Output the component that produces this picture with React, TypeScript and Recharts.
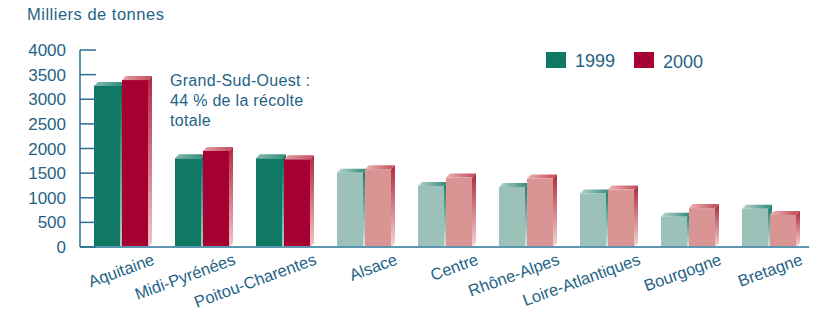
import { BarChart, Bar, XAxis, YAxis } from 'recharts';

const regions = [
  'Aquitaine',
  'Midi-Pyrénées',
  'Poitou-Charentes',
  'Alsace',
  'Centre',
  'Rhône-Alpes',
  'Loire-Atlantiques',
  'Bourgogne',
  'Bretagne',
];
const harvest1999 = [3270, 1800, 1800, 1510, 1240, 1220, 1085, 615, 775];
const harvest2000 = [3390, 1950, 1780, 1580, 1410, 1390, 1165, 790, 650];
const grandSudOuest = ['Aquitaine', 'Midi-Pyrénées', 'Poitou-Charentes'];
const yTicks = [0, 500, 1000, 1500, 2000, 2500, 3000, 3500, 4000];
const noteLines = ['Grand-Sud-Ouest :', '44 % de la récolte', 'totale'];

const TEXT = '#1f6386';
const FONT = '"Liberation Sans", Arial, sans-serif';

const fronts = {
  y1999: { s: '#0f7966', l: '#9bc1b8' },
  y2000: { s: '#a60032', l: '#d99593' },
};

const data = regions.map((region, i) => ({
  region,
  y1999: harvest1999[i],
  y2000: harvest2000[i],
}));

type Series = 'y1999' | 'y2000';

function make3DBar(series: Series) {
  return (props: any) => {
    const { x, y, width, height, payload } = props;
    if (!height || height <= 0) return <g />;
    const kind = grandSudOuest.includes(payload.region) ? 's' : 'l';
    const d = 4;
    const base = y + height;
    return (
      <g>
        <polygon
          points={`${x + width},${y} ${x + width + d},${y - d} ${x + width + d},${base - d} ${x + width},${base}`}
          fill={`url(#side-${series}-${kind})`}
        />
        <polygon
          points={`${x},${y} ${x + d},${y - d} ${x + width + d},${y - d} ${x + width},${y}`}
          fill={`url(#top-${series}-${kind})`}
        />
        <rect x={x} y={y} width={width} height={height} fill={fronts[series][kind]} />
      </g>
    );
  };
}

function YTick({ x, y, payload }: any) {
  return (
    <g>
      <line x1={x} y1={y} x2={x + 16} y2={y} stroke="#2c6e8e" strokeWidth={1.5} />
      <text x={x - 14} y={y + 6} textAnchor="end" fontSize={17} fill={TEXT} fontFamily={FONT}>
        {payload.value}
      </text>
    </g>
  );
}

function XTick({ x, y, payload }: any) {
  const tx = x + 35;
  const ty = y + 17;
  return (
    <text
      x={tx}
      y={ty}
      textAnchor="end"
      fontSize={16.5}
      fill={TEXT}
      fontFamily={FONT}
      transform={`rotate(-20 ${tx} ${ty})`}
    >
      {payload.value}
    </text>
  );
}

function Gradients() {
  const side: [string, string, string][] = [
    ['side-y1999-s', '#0b6a59', '#a9d0c6'],
    ['side-y1999-l', '#17796a', '#d2e7e1'],
    ['side-y2000-s', '#b52a45', '#f2c6c6'],
    ['side-y2000-l', '#b02a40', '#f5d6d3'],
  ];
  const top: [string, string, string][] = [
    ['top-y1999-s', '#86b9ad', '#2d8a78'],
    ['top-y1999-l', '#b8d5cd', '#2e8676'],
    ['top-y2000-s', '#e3a0a2', '#c24c5c'],
    ['top-y2000-l', '#ecb3b1', '#c04a58'],
  ];
  return (
    <defs>
      {side.map(([id, a, b]) => (
        <linearGradient key={id} id={id} x1="0" y1="0" x2="0" y2="1">
          <stop offset="0%" stopColor={a} />
          <stop offset="100%" stopColor={b} />
        </linearGradient>
      ))}
      {top.map(([id, a, b]) => (
        <linearGradient key={id} id={id} x1="0" y1="0" x2="1" y2="0">
          <stop offset="0%" stopColor={a} />
          <stop offset="100%" stopColor={b} />
        </linearGradient>
      ))}
    </defs>
  );
}

export default function App() {
  return (
    <div
      style={{
        position: 'absolute',
        left: 0,
        top: 0,
        width: 814,
        height: 315,
        background: '#fff',
        fontFamily: FONT,
        color: TEXT,
      }}
    >
      <div style={{ position: 'absolute', left: 27, top: 5, fontSize: 16.5, letterSpacing: 0.5, whiteSpace: 'nowrap' }}>
        Milliers de tonnes
      </div>
      <div style={{ position: 'absolute', left: 170, top: 71, fontSize: 16, lineHeight: '20px', letterSpacing: 0.3 }}>
        {noteLines.map((l) => (
          <div key={l} style={{ whiteSpace: 'nowrap' }}>{l}</div>
        ))}
      </div>
      <div style={{ position: 'absolute', left: 546, top: 47, display: 'flex', alignItems: 'center', fontSize: 18 }}>
        <span style={{ width: 20, height: 16, background: fronts.y1999.s, display: 'inline-block' }} />
        <span style={{ marginLeft: 9, marginTop: 2 }}>1999</span>
        <span style={{ width: 20, height: 16, background: fronts.y2000.s, display: 'inline-block', marginLeft: 19 }} />
        <span style={{ marginLeft: 9, marginTop: 5 }}>2000</span>
      </div>
      <BarChart
        width={814}
        height={315}
        data={data}
        margin={{ top: 50, right: 5, bottom: 0, left: 0 }}
        barSize={26}
        barGap={2}
        style={{ position: 'absolute', left: 0, top: 0 }}
      >
        <Gradients />
        <XAxis
          dataKey="region"
          height={68}
          interval={0}
          tickSize={0}
          tickMargin={0}
          tickLine={false}
          axisLine={{ stroke: '#5d96b0', strokeWidth: 2 }}
          tick={<XTick />}
        />
        <YAxis
          width={80}
          domain={[0, 4000]}
          ticks={yTicks}
          interval={0}
          tickSize={0}
          tickMargin={0}
          tickLine={false}
          axisLine={{ stroke: '#2c6e8e', strokeWidth: 1.5 }}
          tick={<YTick />}
        />
        <Bar dataKey="y1999" isAnimationActive={false} shape={make3DBar('y1999')} />
        <Bar dataKey="y2000" isAnimationActive={false} shape={make3DBar('y2000')} />
      </BarChart>
    </div>
  );
}
